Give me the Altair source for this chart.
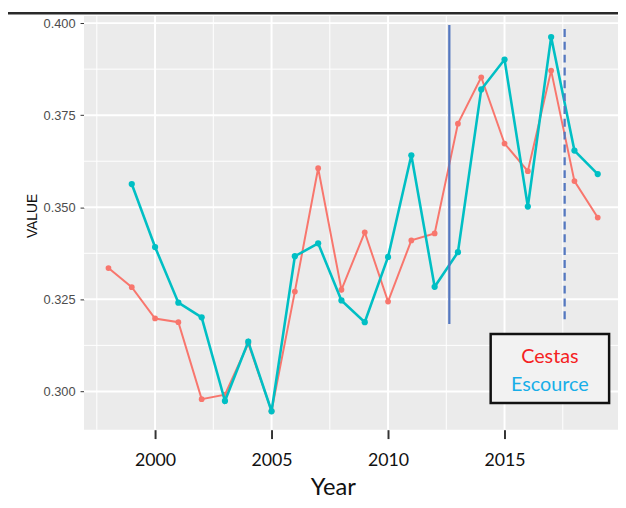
import altair as alt
import pandas as pd

# ---- data ----
years_cestas = list(range(1998, 2020))
cestas = [0.3335, 0.3283, 0.3198, 0.3188, 0.2979, 0.2991, 0.3130, 0.2947, 0.3271, 0.3606,
          0.3276, 0.3432, 0.3244, 0.3410, 0.3429, 0.3727, 0.3853, 0.3673, 0.3598, 0.3871,
          0.3571, 0.3472]
years_escource = list(range(1999, 2020))
escource = [0.3563, 0.3392, 0.3241, 0.3201, 0.2974, 0.3135, 0.2946, 0.3367, 0.3402, 0.3247,
            0.3188, 0.3365, 0.3641, 0.3284, 0.3378, 0.3820, 0.3901, 0.3502, 0.3962, 0.3654,
            0.3590]

x_ticks = [2000, 2005, 2010, 2015]
x_minor = [1997.5, 2002.5, 2007.5, 2012.5, 2017.5]
y_ticks = [0.300, 0.325, 0.350, 0.375, 0.400]
y_minor = [0.3125, 0.3375, 0.3625, 0.3875]

solid_line_year = [2012.63]
solid_line_lo = [0.3183]
solid_line_hi = [0.3995]
dashed_line_year = [2017.58]
dashed_line_lo = [0.3196]
dashed_line_hi = [0.3995]

legend_labels = ["Cestas", "Escource"]

W, H = 541, 419

xs = alt.Scale(domain=[1996.95, 2019.87], nice=False, zero=False)
ys = alt.Scale(domain=[0.2896, 0.4019], nice=False, zero=False)

xaxis = alt.Axis(values=x_ticks, format="d", grid=False, domain=False, title="Year",
                 tickColor="#333333", tickWidth=2, tickSize=9,
                 labelFont="Lato", labelFontSize=18, labelColor="#111111", labelPadding=13,
                 titleFont="Lato", titleFontSize=24, titleFontWeight="normal", titleColor="#111111",
                 titleX=252, titleY=66, titleBaseline="alphabetic", titleAnchor="middle")
yaxis = alt.Axis(values=y_ticks, format=".3f", grid=False, domain=False, title="VALUE",
                 tickColor="#333333", tickWidth=1, tickSize=4,
                 labelFont="Liberation Sans", labelFontSize=13, labelColor="#4D4D4D", labelPadding=5,
                 titleFont="Liberation Sans", titleFontSize=14, titleFontWeight="normal",
                 titleColor="#111111", titleX=-52, titleY=202, titleAngle=270,
                 titleBaseline="middle", titleAlign="center")


def X(field="Year"):
    return alt.X(f"{field}:Q", scale=xs, axis=xaxis)


def Y(field="VALUE"):
    return alt.Y(f"{field}:Q", scale=ys, axis=yaxis)


df_c = pd.DataFrame({"Year": years_cestas, "VALUE": cestas})
df_e = pd.DataFrame({"Year": years_escource, "VALUE": escource})

# grid
gx_major = alt.Chart(pd.DataFrame({"Year": x_ticks})).mark_rule(color="white", strokeWidth=2).encode(
    x=X(), y=alt.value(0), y2=alt.value(H))
gx_minor = alt.Chart(pd.DataFrame({"Year": x_minor})).mark_rule(color="white", strokeWidth=1).encode(
    x=X(), y=alt.value(0), y2=alt.value(H))
gy_major = alt.Chart(pd.DataFrame({"VALUE": y_ticks})).mark_rule(color="white", strokeWidth=2).encode(
    y=Y(), x=alt.value(0), x2=alt.value(W))
gy_minor = alt.Chart(pd.DataFrame({"VALUE": y_minor})).mark_rule(color="white", strokeWidth=1).encode(
    y=Y(), x=alt.value(0), x2=alt.value(W))

red = "#F8766D"
cyan = "#00BFC4"
line_c = alt.Chart(df_c).mark_line(color=red, strokeWidth=2.0).encode(x=X(), y=Y())
pts_c = alt.Chart(df_c).mark_point(color=red, filled=True, size=34, opacity=1).encode(x=X(), y=Y())
line_e = alt.Chart(df_e).mark_line(color=cyan, strokeWidth=2.6).encode(x=X(), y=Y())
pts_e = alt.Chart(df_e).mark_point(color=cyan, filled=True, size=40, opacity=1).encode(x=X(), y=Y())

vsolid = alt.Chart(pd.DataFrame({"Year": solid_line_year, "VALUE": solid_line_lo, "top": solid_line_hi})).mark_rule(
    color="#5578C0", strokeWidth=2.3).encode(x=X(), y=Y(), y2="top:Q")
vdash = alt.Chart(pd.DataFrame({"Year": dashed_line_year, "VALUE": dashed_line_lo, "top": dashed_line_hi})).mark_rule(
    color="#5578C0", strokeWidth=2.3, strokeDash=[8, 5]).encode(x=X(), y=Y(), y2="top:Q")

# legend box annotation
box = alt.Chart(pd.DataFrame({"k": [0]})).mark_rect(fill="#F2F2F2", stroke="#111111", strokeWidth=2.5).encode(
    x=alt.value(412), x2=alt.value(532), y=alt.value(322), y2=alt.value(392))
txt_c = alt.Chart(pd.DataFrame({"label": [legend_labels[0]]})).mark_text(
    font="Lato", fontSize=20, color="#F52222", baseline="alphabetic", align="center").encode(
    text="label:N", x=alt.value(472), y=alt.value(351))
txt_e = alt.Chart(pd.DataFrame({"label": [legend_labels[1]]})).mark_text(
    font="Lato", fontSize=20, color="#18AEE8", baseline="alphabetic", align="center").encode(
    text="label:N", x=alt.value(472), y=alt.value(380))

# screenshot frame remnant at the top
topline = alt.Chart(pd.DataFrame({"k": [0]})).mark_rule(color="#2A2A2A", strokeWidth=2.5).encode(
    x=alt.value(-85), x2=alt.value(W), y=alt.value(-3))

chart = alt.layer(
    gx_minor, gx_major, gy_minor, gy_major,
    line_c, pts_c, line_e, pts_e,
    vsolid, vdash,
    box, txt_c, txt_e, topline,
).properties(
    width=W, height=H,
    padding={"left": 77, "top": 5, "right": 0, "bottom": 68},
    autosize=alt.AutoSizeParams(type="none"),
    background="white",
).configure_view(fill="#EBEBEB", stroke=None)

chart.save("out.html", embed_options={"renderer": "svg", "actions": False})
